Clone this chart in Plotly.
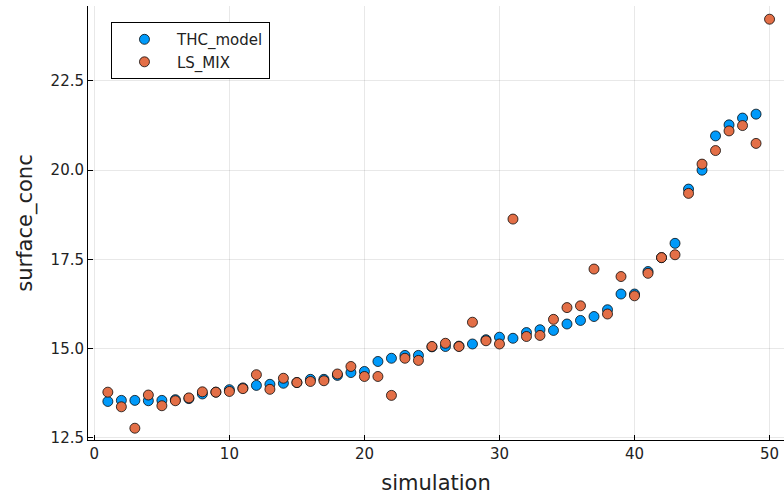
import plotly.graph_objects as go

sim_thc = list(range(1, 50))
thc_model = [13.52, 13.55, 13.55, 13.54, 13.55, 13.57, 13.60, 13.73, 13.78, 13.85,
             13.90, 13.97, 14.00, 14.03, 14.05, 14.14, 14.14, 14.25, 14.33, 14.36,
             14.64, 14.73, 14.81, 14.81, 15.05, 15.06, 15.07, 15.13, 15.25, 15.32,
             15.29, 15.45, 15.53, 15.51, 15.69, 15.79, 15.90, 16.09, 16.53, 16.53,
             17.16, 17.55, 17.95, 19.47, 20.00, 20.96, 21.27, 21.46, 21.57]

sim_ls = list(range(1, 51))
ls_mix = [13.78, 13.37, 12.77, 13.70, 13.40, 13.54, 13.62, 13.79, 13.78, 13.80,
          13.88, 14.27, 13.86, 14.17, 14.05, 14.08, 14.10, 14.29, 14.50, 14.22,
          14.22, 13.69, 14.73, 14.67, 15.06, 15.15, 15.06, 15.74, 15.22, 15.13,
          18.63, 15.34, 15.37, 15.82, 16.15, 16.20, 17.23, 15.97, 17.02, 16.48,
          17.11, 17.55, 17.63, 19.35, 20.17, 20.55, 21.10, 21.25, 20.75, 24.23]

x_ticks = [0, 10, 20, 30, 40, 50]
y_ticks = [12.5, 15.0, 17.5, 20.0, 22.5]

FONT = "DejaVu Sans"
marker_line = dict(color="rgba(0,0,0,0.75)", width=1)

fig = go.Figure()
fig.add_trace(go.Scatter(x=sim_thc, y=thc_model, mode="markers", name="THC_model",
                         marker=dict(color="#009AFA", size=10, line=marker_line)))
fig.add_trace(go.Scatter(x=sim_ls, y=ls_mix, mode="markers", name="LS_MIX",
                         marker=dict(color="#E36F47", size=10, line=marker_line)))

axis_common = dict(showline=True, linecolor="black", linewidth=1, mirror=False,
                   showgrid=True, gridcolor="rgba(0,0,0,0.09)", gridwidth=1,
                   zeroline=False, ticks="inside", ticklen=5, tickcolor="black",
                   automargin=False,
                   tickfont=dict(family=FONT, size=15, color="#222"))

fig.update_layout(
    width=784, height=495,
    margin=dict(l=88, r=0, t=6, b=55),
    paper_bgcolor="white", plot_bgcolor="white",
    font=dict(family=FONT, color="#222"),
    xaxis=dict(range=[-0.47, 51.07], tickvals=x_ticks,
               title=dict(text="simulation", font=dict(family=FONT, size=21), standoff=13),
               **axis_common),
    yaxis=dict(range=[12.44, 24.6], tickvals=y_ticks,
               ticktext=[f"{v:.1f}" for v in y_ticks],
               title=dict(text="surface_conc", font=dict(family=FONT, size=21), standoff=12),
               **axis_common),
    legend=dict(x=0.033, y=0.963, xanchor="left", yanchor="top",
                bgcolor="white", bordercolor="black", borderwidth=1,
                font=dict(family=FONT, size=15, color="#222"),
                itemwidth=55, tracegroupgap=0),
    showlegend=True,
)

fig.write_html("out.html",
               config={"displayModeBar": False},
               post_script="document.body.style.margin='0';document.body.style.overflow='hidden';")
